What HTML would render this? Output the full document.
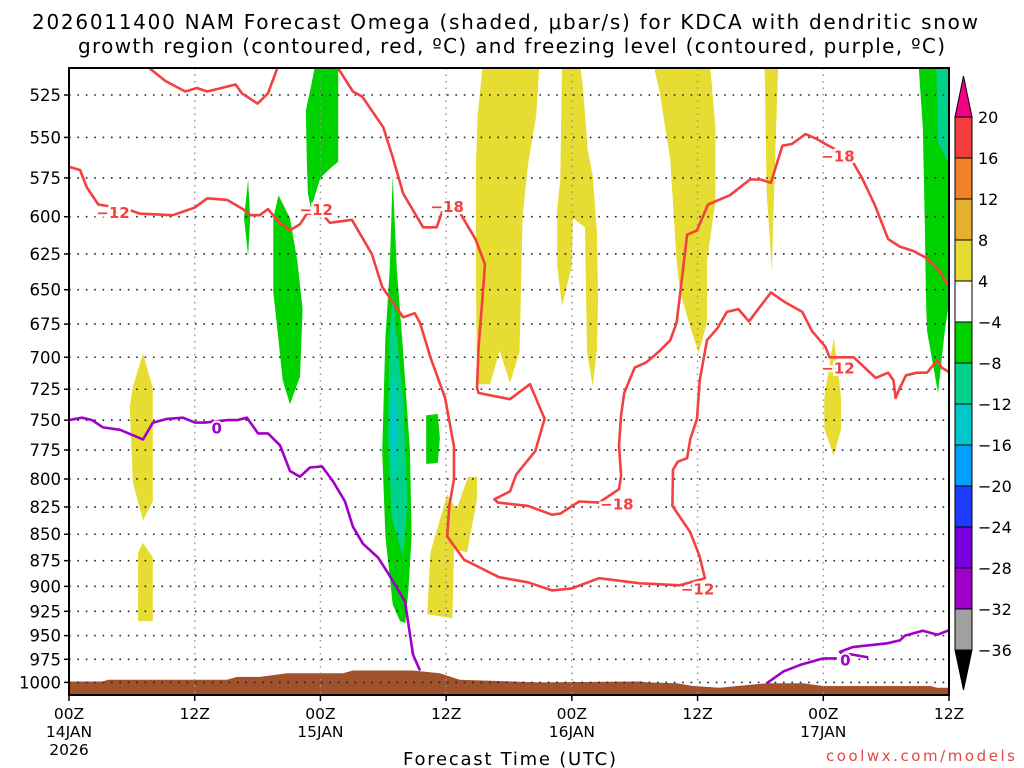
<!DOCTYPE html>
<html><head><meta charset="utf-8">
<style>
html,body{margin:0;padding:0;background:#fff;}
svg{display:block;font-family:"DejaVu Sans","Liberation Sans",sans-serif;}
</style></head>
<body>
<svg id="chart" width="1024" height="768" viewBox="0 0 1024 768" xmlns="http://www.w3.org/2000/svg">
<text x="32" y="29" font-size="20" textLength="946" lengthAdjust="spacing" fill="#000">2026011400 NAM Forecast Omega (shaded, μbar/s) for KDCA with dendritic snow</text>
<text x="78" y="53" font-size="20" textLength="867" lengthAdjust="spacing" fill="#000">growth region (contoured, red, ºC) and freezing level (contoured, purple, ºC)</text>
<defs><clipPath id="plotclip"><rect x="69" y="68" width="880" height="627"/></clipPath></defs>
<g id="shade" clip-path="url(#plotclip)"></g>
<g id="grid"></g>
<g id="lines" clip-path="url(#plotclip)"></g>
<g id="labels"></g>
<rect x="69" y="68" width="880" height="627" fill="none" stroke="#000" stroke-width="2"/>
<g id="axes"></g>
<g id="cbar"></g>
<text x="403" y="765" font-size="18" textLength="213" lengthAdjust="spacing">Forecast Time (UTC)</text>
<text x="826" y="761" font-size="15" textLength="189" lengthAdjust="spacing" fill="#e04848">coolwx.com/models</text>
</svg>
<script>
// ---- data (hours since 00Z 14JAN, pressure hPa) ----
const yTicks = [525,550,575,600,625,650,675,700,725,750,775,800,825,850,875,900,925,950,975,1000];
const xTickHours = [0,12,24,36,48,60,72,84];
const xTickTime = ["00Z","12Z","00Z","12Z","00Z","12Z","00Z","12Z"];
const xTickDate = ["14JAN","","15JAN","","16JAN","","17JAN",""];
const cbarLevels = ["20","16","12","8","4","−4","−8","−12","−16","−20","−24","−28","−32","−36"];
const cbarColors = ["#f43c3c","#f08228","#e6af2d","#e6dc32","#ffffff","#00d200","#00d28c","#00c8c8","#00a0ff","#1e3cff","#7800dc","#a000c8","#a0a0a0"];

const redMinus18A = [[7.3,508],[9.2,517],[11.1,523],[12.2,521],[13.2,523],[15.9,519],[16.5,524],[18.0,530],[19.0,524],[20.0,508]];
const redMinus12 = [[0,568],[1.05,570],[1.7,581],[2.8,592],[5.5,595],[6.8,598],[9.9,599],[12,594],[13.2,588],[15.1,589],[16.6,595],[17.3,599],[18.2,599],[19,595],[19.95,603],[21.1,609],[22.05,605],[22.7,598],[24.15,598],[24.9,604],[27,602],[27.5,608],[28.9,625],[29.9,648],[30.9,659],[31.9,670],[33,667],[33.5,674],[34.5,700],[35.9,732],[36.75,772],[36.75,800],[36.3,824],[36.1,852],[37.7,874],[41.05,891],[43.8,896],[46.1,904],[48,902],[50.6,892],[54.5,897],[58.3,899],[60.7,892],[60.2,871],[59.3,848],[57.6,824],[57.65,792],[58.1,785],[59,782],[59.3,766],[59.95,749],[60.2,718],[60.9,687],[61.9,678],[62.8,666],[63.9,664],[64.9,673],[65.8,664],[67,652],[68.35,659],[70,666],[70.9,680],[72.2,692],[72.6,700],[74.9,700],[77,716],[78.2,712],[78.7,718],[78.9,732],[79.3,724],[79.9,714],[80.95,712],[81.9,712],[82.9,702],[83.3,708],[84.1,712]];
const redMinus18B = [[25.6,509],[27.1,523],[28,526],[30,544],[30.9,562],[31.9,585],[33.8,607],[35.1,607],[35.6,597],[37.1,595],[38.8,615],[39.7,632],[39.6,643],[39.1,692],[38.95,724],[39.1,728],[42.1,733],[44,721],[45.4,749],[44.5,776],[42.7,796],[42.1,811],[40.6,818],[40.95,821],[43.8,824],[46.1,832],[46.9,831],[48.7,820],[50.6,821],[52.5,809],[52.7,797],[52.5,771],[52.7,746],[53,728],[54,708],[55.1,704],[56.4,695],[57.4,687],[58,674],[58.3,655],[59,612],[59.95,609],[61,592],[63.1,586],[65,576],[66,576],[67,578],[68.1,555],[69,554],[70.3,548],[71.4,551],[72.2,554],[74.55,562],[75.7,575],[76.9,592],[78.2,615],[79.3,620],[80.6,623],[81.9,628],[83.1,637],[84,648]];
const redLabelHours = [4.2,23.6,60.0,73.4,36.1,52.3,73.4];
const redLabelPres = [597,595,902,708,593,822,561];
const redLabelText = ["−12","−12","−12","−12","−18","−18","−18"];

const freezeA = [[0,750],[1.24,748],[2.2,750],[3.25,756],[4.87,758],[7.06,766],[8.02,752],[9.35,749],[10.88,748],[12.03,752],[12.98,752],[15.18,750],[16.04,750],[16.99,748],[18.04,761],[19,761],[20.14,771],[21.1,793],[22.05,798],[23,790],[24.15,789],[25.2,802],[26.35,820],[27.1,843],[28.06,859],[29.5,872],[30.45,887],[32.07,915],[32.84,970],[33.5,987]];
const freezeB = [[66.6,1001],[68.2,988],[69.8,981],[72,974],[73.3,974]];
const freezeC = [[76.3,973],[74.8,970],[73.8,969],[73.6,967],[74.8,962],[78.1,958],[79.3,955],[79.8,950],[81.5,945],[82.9,949],[84.1,944]];
const freezeLabelHours = [14.1,74.1];
const freezeLabelPres = [756,975];

const surfaceHours = [0,3.25,3.72,15.08,16.04,18.23,20.8,26.16,27.1,32.8,35.4,37.3,44.96,54.5,55.2,58.04,59.57,62.14,63.77,66.63,70.07,71.97,82.2,82.86,84.1];
const surfacePres = [999,999,997,997,994,994,990,990,987,987,990,997,1000,999,1000,1001,1004,1006,1004,1001,1001,1004,1004,1006,1006];

const omegaPos4a = [[7.06,697],[8.0,724],[8.0,820],[7.06,837],[6.1,803],[5.8,739],[6.1,723]];
const omegaPos4b = [[7.06,858],[8,872],[8,935],[6.6,935],[6.6,867]];
const omegaPos4c = [[39.5,508],[44.9,508],[44.6,537],[43.8,567],[43.3,600],[43.05,682],[43,696],[42.1,720],[41.1,695],[40.2,721],[38.95,721],[38.85,640],[38.85,567],[39,537]];
const omegaPos4d = [[47.06,508],[48.8,508],[49.06,521],[49.5,557],[50,574],[50.4,611],[50.5,656],[50.4,693],[50,723],[49.45,696],[49.25,607],[48.1,601],[48,633],[47.06,662],[46.6,633],[46.6,595],[46.9,576]];
const omegaPos4e = [[55.8,508],[61.2,508],[61.7,544],[61.7,590],[60.9,630],[60.9,674],[60.1,697],[59.1,672],[58.3,650],[58,630],[57.4,564],[56.4,524]];
const omegaPos4f = [[66.4,508],[67.7,508],[67.4,564],[67.2,608],[67.1,637],[66.6,585]];
const omegaPos4g = [[73,685],[73.7,732],[73.7,757],[73,780],[72.1,757],[72.1,732]];
const omegaPos4h = [[34.2,928],[34.5,867],[36.1,814],[37,827],[38.1,798],[38.95,798],[38.95,818],[38,867],[36.75,864],[36.6,932]];
const omegaNeg4a = [[23.5,508],[25.7,508],[25.7,565],[25.1,568],[24,575],[23.3,590],[23.1,595],[22.8,585],[22.7,564],[22.6,534],[23.1,520]];
const omegaNeg4b = [[17.1,576],[17.3,601],[17.1,626],[16.7,601]];
const omegaNeg4c = [[20,586],[21.1,601],[21.8,630],[22.3,664],[22.05,715],[21.1,737],[20.4,718],[19.9,680],[19.5,652],[19.5,601]];
const omegaNeg4d = [[30.9,574],[31.3,637],[31.8,685],[32.55,776],[32.7,852],[32.4,904],[32.1,937],[31.6,935],[30.9,918],[30.2,852],[29.9,776],[30.2,685],[30.6,637]];
const omegaNeg4e = [[34.1,746],[35.2,745],[35.4,765],[35.2,786],[34.1,787]];
const omegaNeg4f = [[81.1,508],[84.1,508],[84.1,655],[83.6,680],[82.95,728],[81.9,680],[81.8,657],[81.7,608],[81.5,544]];
const omegaNeg8a = [[30.9,654],[31.9,736],[32.3,820],[31.9,871],[30.8,835],[30.45,763],[30.6,685]];
const omegaNeg8b = [[82.8,508],[84.1,508],[84.1,575],[83.9,565],[82.95,553]];
const omegaNeg12a = [[31.0,705],[31.4,760],[31.0,803],[30.7,760]];

// ---- scales ----
const X0=69, X1=949, Y0=68, Y1=695;
function X(h){ return X0 + h*(X1-X0)/84; }
function Y(p){ return 95 + (Math.log(p)-Math.log(525))*911.6; }
const NS="http://www.w3.org/2000/svg";
function mk(tag, attrs, parent){ const e=document.createElementNS(NS,tag); for(const k in attrs) e.setAttribute(k,attrs[k]); parent.appendChild(e); return e; }
function pts(arr){ return arr.map(d=>X(d[0]).toFixed(1)+","+Y(d[1]).toFixed(1)).join(" "); }

const shade=document.getElementById("shade"), grid=document.getElementById("grid"), lines=document.getElementById("lines"), labels=document.getElementById("labels"), axes=document.getElementById("axes"), cbar=document.getElementById("cbar");

const polys = [
 [omegaPos4a,"#e6dc32","omega-positive-region"],[omegaPos4b,"#e6dc32","omega-positive-region"],[omegaPos4c,"#e6dc32","omega-positive-region"],[omegaPos4d,"#e6dc32","omega-positive-region"],[omegaPos4e,"#e6dc32","omega-positive-region"],[omegaPos4f,"#e6dc32","omega-positive-region"],[omegaPos4g,"#e6dc32","omega-positive-region"],[omegaPos4h,"#e6dc32","omega-positive-region"],
 [omegaNeg4a,"#00d200","omega-negative-region"],[omegaNeg4b,"#00d200","omega-negative-region"],[omegaNeg4c,"#00d200","omega-negative-region"],[omegaNeg4d,"#00d200","omega-negative-region"],[omegaNeg4e,"#00d200","omega-negative-region"],[omegaNeg4f,"#00d200","omega-negative-region"],
 [omegaNeg8a,"#00d28c","omega-strong-negative-region"],[omegaNeg8b,"#00d28c","omega-strong-negative-region"],[omegaNeg12a,"#00c8c8","omega-very-strong-negative-region"]
];
polys.forEach(([arr,col,name])=>{
  const e=mk("polygon",{points:pts(arr),fill:col},shade);
  
  
});
{
  const arr=surfaceHours.map((h,i)=>[h,surfacePres[i]]);
  const d="M"+X(0)+","+Y1+" L"+arr.map(a=>X(a[0]).toFixed(1)+","+Y(a[1]).toFixed(1)).join(" L")+" L"+X(84.1)+","+Y1+" Z";
  const e=mk("path",{d:d,fill:"#a0522d"},shade);
  
  
}
yTicks.forEach(p=>{
  const y=Y(p);
  const g=mk("line",{x1:X0,x2:X1,y1:y,y2:y,stroke:"#222","stroke-width":1.6,"stroke-dasharray":"1.6 6.8"},grid);
  
  
  const t=mk("line",{x1:X0-5,x2:X0,y1:y,y2:y,stroke:"#000","stroke-width":1.5},axes);
  
  
  const l=mk("text",{x:61,y:y+6,"font-size":16.5,"text-anchor":"end"},axes);
  l.textContent=p;
  
  
});
xTickHours.forEach((h,i)=>{
  const x=X(h);
  if(i>0 && i<xTickHours.length-1){
    const g=mk("line",{x1:x,x2:x,y1:Y0,y2:Y1,stroke:"#999","stroke-width":1.5,"stroke-dasharray":"1.5 5"},grid);
    
    
  }
  const t=mk("line",{x1:x,x2:x,y1:Y1,y2:Y1+6,stroke:"#000","stroke-width":1.5},axes);
  
  
  const a=mk("text",{x:x,y:719,"font-size":15.5,"text-anchor":"middle"},axes);
  a.textContent=xTickTime[i];
  
  
  if(xTickDate[i]){
    const b=mk("text",{x:x,y:737,"font-size":15.5,"text-anchor":"middle"},axes);
    b.textContent=xTickDate[i];
    
    
  }
});
{
  const yr=mk("text",{x:X(0),y:755,"font-size":15.5,"text-anchor":"middle"},axes);
  yr.textContent="2026";
  
  
}
[[redMinus18A,"#f44040","dgz-minus18-contour"],[redMinus12,"#f44040","dgz-minus12-contour"],[redMinus18B,"#f44040","dgz-minus18-contour"],
 [freezeA,"#a000c8","freezing-level-contour"],[freezeB,"#a000c8","freezing-level-contour"],[freezeC,"#a000c8","freezing-level-contour"]].forEach(([arr,col,name])=>{
  const e=mk("polyline",{points:pts(arr),fill:"none",stroke:col,"stroke-width":2.6,"stroke-linejoin":"round"},lines);
  
  
});
redLabelHours.forEach((h,i)=>{
  const e=mk("text",{x:X(h),y:Y(redLabelPres[i])+6,"font-size":15,"font-weight":"bold","text-anchor":"middle",fill:"#f44040",stroke:"#fff","stroke-width":5,"paint-order":"stroke"},labels);
  e.textContent=redLabelText[i];
  
  
});
freezeLabelHours.forEach((h,i)=>{
  const e=mk("text",{x:X(h),y:Y(freezeLabelPres[i])+6,"font-size":15,"font-weight":"bold","text-anchor":"middle",fill:"#a000c8",stroke:"#fff","stroke-width":4,"paint-order":"stroke"},labels);
  e.textContent="0";
  
  
});
{
  const cx0=955, cx1=972, top=117, step=41;
  const tri=mk("polygon",{points:`${cx0},${top} ${cx1},${top} ${(cx0+cx1)/2},76`,fill:"#f00082",stroke:"#000","stroke-width":1},cbar);
  
  
  cbarColors.forEach((c,i)=>{
    const r=mk("rect",{x:cx0,y:top+i*step,width:cx1-cx0,height:step,fill:c,stroke:"#000","stroke-width":1},cbar);
    
    
  });
  const bot=top+cbarColors.length*step;
  const tri2=mk("polygon",{points:`${cx0},${bot} ${cx1},${bot} ${(cx0+cx1)/2},690`,fill:"#000",stroke:"#000","stroke-width":1},cbar);
  
  
  cbarLevels.forEach((t,i)=>{
    const e=mk("text",{x:978,y:top+i*step+6,"font-size":16},cbar);
    e.textContent=t;
    
    
  });
}
</script>
</body></html>
